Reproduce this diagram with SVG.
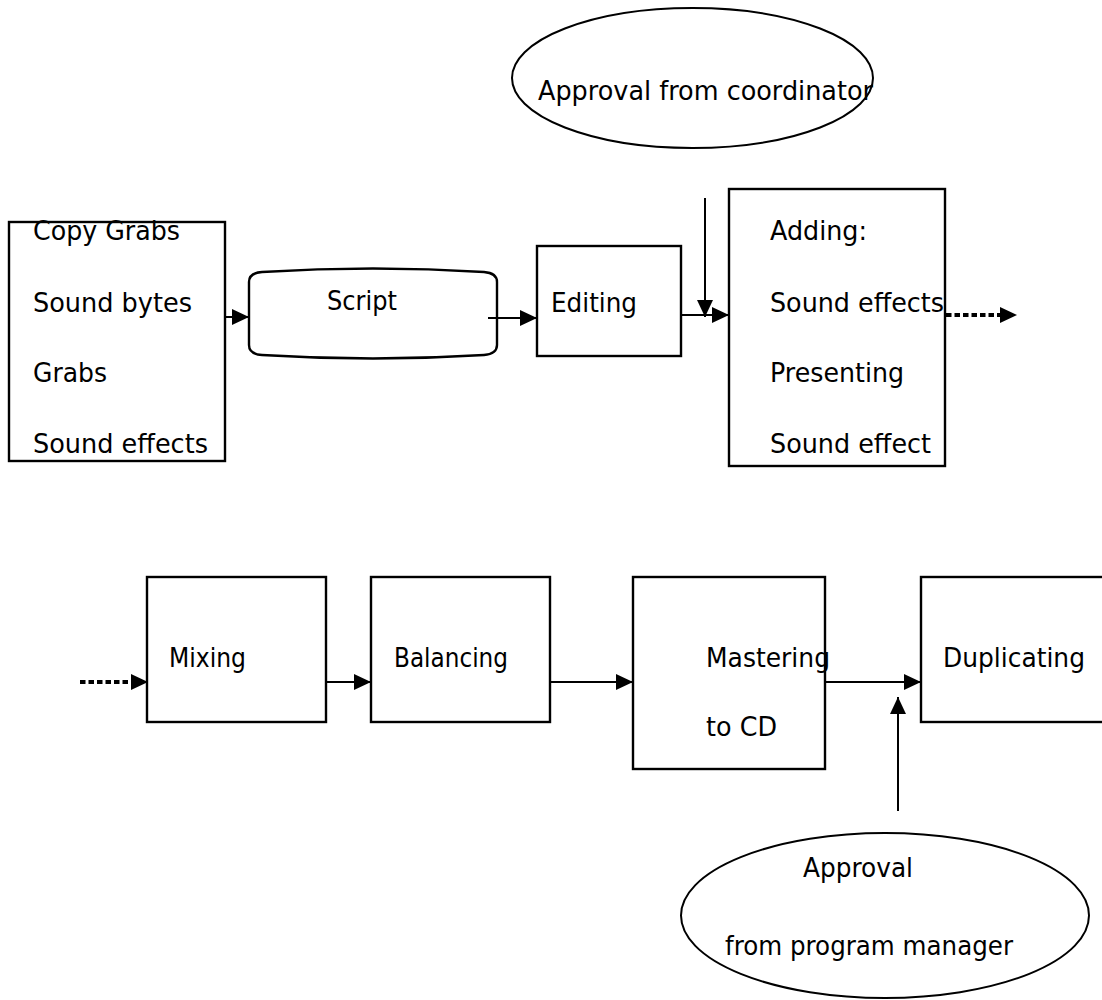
<svg xmlns="http://www.w3.org/2000/svg" width="1102" height="1000" viewBox="0 0 1102 1000">
<defs>
<marker id="ah" markerUnits="userSpaceOnUse" markerWidth="17" markerHeight="16" refX="17" refY="8" orient="auto">
<path d="M0,0 L17,8 L0,16 Z" fill="#000"/>
</marker>
<style>
.box{fill:#fff;stroke:#000;stroke-width:2.4}
.ell{fill:#fff;stroke:#000;stroke-width:2}
.t{font-family:"DejaVu Sans","Verdana",sans-serif;font-size:26.5px;fill:#000}
.c{fill:none;stroke:#000;stroke-width:2}
.d{fill:none;stroke:#000;stroke-width:4;stroke-dasharray:5.5 3}
</style>
</defs>
<rect width="1102" height="1000" fill="#fff"/>

<g id="approval-coordinator">
<ellipse class="ell" cx="692.5" cy="78" rx="180.5" ry="70"/>
<text class="t" x="538" y="100" textLength="335" lengthAdjust="spacingAndGlyphs">Approval from coordinator</text>
</g>

<g id="sources">
<rect class="box" x="9" y="222" width="216" height="239"/>
<text class="t" x="33" y="240" textLength="147" lengthAdjust="spacingAndGlyphs">Copy Grabs</text>
<text class="t" x="33" y="312" textLength="159" lengthAdjust="spacingAndGlyphs">Sound bytes</text>
<text class="t" x="33" y="382" textLength="74" lengthAdjust="spacingAndGlyphs">Grabs</text>
<text class="t" x="33" y="453" textLength="175" lengthAdjust="spacingAndGlyphs">Sound effects</text>
</g>

<g id="script">
<path class="box" d="M249,282 Q249,273 262,272 Q373,265 484,272 Q497,273 497,282 L497,345 Q497,354 484,355 Q373,362 262,355 Q249,354 249,345 Z"/>
<text class="t" x="327" y="310" textLength="70" lengthAdjust="spacingAndGlyphs">Script</text>
</g>

<g id="editing">
<rect class="box" x="537" y="246" width="144" height="110"/>
<text class="t" x="551" y="312" textLength="86" lengthAdjust="spacingAndGlyphs">Editing</text>
</g>

<g id="adding">
<rect class="box" x="729" y="189" width="216" height="277"/>
<text class="t" x="770" y="240" textLength="97" lengthAdjust="spacingAndGlyphs">Adding:</text>
<text class="t" x="770" y="312" textLength="174" lengthAdjust="spacingAndGlyphs">Sound effects</text>
<text class="t" x="770" y="382" textLength="134" lengthAdjust="spacingAndGlyphs">Presenting</text>
<text class="t" x="770" y="453" textLength="161" lengthAdjust="spacingAndGlyphs">Sound effect</text>
</g>

<g id="mixing">
<rect class="box" x="147" y="577" width="179" height="145"/>
<text class="t" x="169" y="667" textLength="77" lengthAdjust="spacingAndGlyphs">Mixing</text>
</g>

<g id="balancing">
<rect class="box" x="371" y="577" width="179" height="145"/>
<text class="t" x="394" y="667" textLength="114" lengthAdjust="spacingAndGlyphs">Balancing</text>
</g>

<g id="mastering">
<rect class="box" x="633" y="577" width="192" height="192"/>
<text class="t" x="706" y="667" textLength="124" lengthAdjust="spacingAndGlyphs">Mastering</text>
<text class="t" x="706" y="736" textLength="71" lengthAdjust="spacingAndGlyphs">to CD</text>
</g>

<g id="duplicating">
<rect class="box" x="921" y="577" width="200" height="145"/>
<text class="t" x="943" y="667" textLength="142" lengthAdjust="spacingAndGlyphs">Duplicating</text>
</g>

<g id="approval-manager">
<ellipse class="ell" cx="885" cy="915.5" rx="204" ry="82.5"/>
<text class="t" x="803" y="877" textLength="110" lengthAdjust="spacingAndGlyphs">Approval</text>
<text class="t" x="725" y="955" textLength="288" lengthAdjust="spacingAndGlyphs">from program manager</text>
</g>

<g id="connectors">
<line class="c" x1="225" y1="317" x2="249" y2="317" marker-end="url(#ah)"/>
<line class="c" x1="488" y1="318" x2="537" y2="318" marker-end="url(#ah)"/>
<line class="c" x1="681" y1="315" x2="729" y2="315" marker-end="url(#ah)"/>
<line class="c" x1="705" y1="198" x2="705" y2="317" marker-end="url(#ah)"/>
<line class="d" x1="946" y1="315" x2="1002" y2="315"/>
<path d="M1000,307 L1017,315 L1000,323 Z" fill="#000"/>
<line class="d" x1="80" y1="682" x2="134" y2="682"/>
<path d="M131,674 L148,682 L131,690 Z" fill="#000"/>
<line class="c" x1="326" y1="682" x2="371" y2="682" marker-end="url(#ah)"/>
<line class="c" x1="550" y1="682" x2="633" y2="682" marker-end="url(#ah)"/>
<line class="c" x1="825" y1="682" x2="921" y2="682" marker-end="url(#ah)"/>
<line class="c" x1="898" y1="811" x2="898" y2="697" marker-end="url(#ah)"/>
</g>
</svg>
